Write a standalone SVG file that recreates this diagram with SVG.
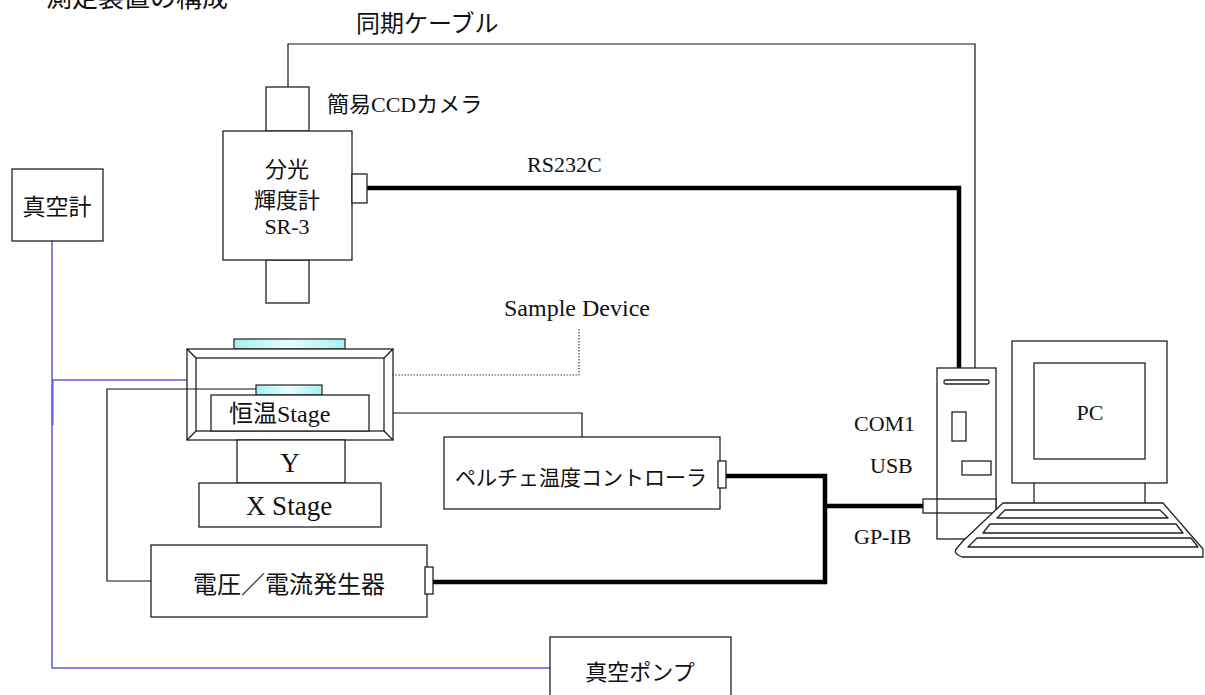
<svg xmlns="http://www.w3.org/2000/svg" width="1205" height="695" viewBox="0 0 1205 695">
<style>
  .bx { fill: #fff; stroke: #222; stroke-width: 1.3; }
  .ln { fill: none; stroke: #111; stroke-width: 1.2; }
  .thick { fill: none; stroke: #000; stroke-width: 4.5; stroke-linejoin: miter; }
  .blue { fill: none; stroke: #5a5ae0; stroke-width: 1.5; }
  .dot { fill: none; stroke: #444; stroke-width: 1.2; stroke-dasharray: 1.5 1.5; }
  text { font-family: "Liberation Serif", "Noto Sans CJK JP", serif; fill: #111; }
  .j { font-family: "Noto Sans CJK JP", sans-serif; }
  .c { text-anchor: middle; }
  .win { fill: url(#glass); stroke: #222; stroke-width: 1.2; }
</style>
<defs>
  <linearGradient id="glass" x1="0" y1="0" x2="1" y2="0">
    <stop offset="0" stop-color="#a6eeee"/>
    <stop offset="0.5" stop-color="#e6ffff"/>
    <stop offset="1" stop-color="#a6eeee"/>
  </linearGradient>
</defs>
<rect width="1205" height="695" fill="#fff"/>

<text class="j" x="46" y="7" font-size="26">測定装置の構成</text>
<text class="j" x="356" y="32" font-size="24">同期ケーブル</text>
<text x="327" y="112" font-size="22">簡易CCDカメラ</text>
<text x="527" y="172" font-size="22">RS232C</text>
<text x="504" y="316" font-size="24">Sample Device</text>
<text x="854" y="431" font-size="22">COM1</text>
<text x="870" y="473" font-size="22">USB</text>
<text x="854" y="544" font-size="22">GP-IB</text>

<g id="connectors">
  <polyline class="blue" points="52,241 52,668 550,668"/>
  <line class="blue" x1="52" y1="380" x2="187" y2="380"/>
  <line class="blue" x1="52.8" y1="380" x2="52.8" y2="425"/>
  <polyline class="ln" points="288,87 288,44 975,44 975,461"/>
  <polyline class="thick" points="367,188 959,188 959,412"/>
  <polyline class="thick" points="726,476 825,476 825,582 433,582"/>
  <line class="thick" x1="823" y1="506" x2="923" y2="506"/>
  <polyline class="ln" points="369,413 582,413 582,437"/>
  <polyline class="ln" points="256,389 107,389 107,581 151,581"/>
  <polyline class="dot" points="579,329 579,375 288,375 288,385"/>
</g>

<g id="vacuum-gauge">
  <rect class="bx" x="12" y="169" width="91" height="72"/>
  <text class="j c" x="57" y="215" font-size="23">真空計</text>
</g>

<g id="spectroradiometer">
  <rect class="bx" x="266" y="87" width="43" height="44"/>
  <rect class="bx" x="266" y="260" width="43" height="43"/>
  <rect class="bx" x="223" y="131" width="129" height="129"/>
  <rect class="bx" x="352" y="174" width="15" height="29"/>
  <text class="j c" x="287" y="177" font-size="22">分光</text>
  <text class="j c" x="287" y="208" font-size="22">輝度計</text>
  <text class="c" x="287" y="234" font-size="22">SR-3</text>
</g>

<g id="chamber">
  <rect class="win" x="234" y="339" width="111" height="10"/>
  <rect class="bx" x="187" y="349" width="206" height="91"/>
  <rect class="bx" x="196" y="358" width="188" height="73"/>
  <path class="ln" d="M187,349 L196,358 M393,349 L384,358 M187,440 L196,431 M393,440 L384,431"/>
  <line class="ln" x1="187" y1="389" x2="256" y2="389"/>
</g>

<g id="sample">
  <rect class="win" x="256" y="385" width="66" height="10"/>
</g>

<g id="thermo-stage">
  <rect class="bx" x="211" y="395" width="158" height="36"/>
  <text x="229" y="422" font-size="24">恒温Stage</text>
</g>

<g id="y-stage">
  <rect class="bx" x="237" y="440" width="108" height="43"/>
  <text class="c" x="290" y="472" font-size="27">Y</text>
</g>

<g id="x-stage">
  <rect class="bx" x="199" y="483" width="182" height="44"/>
  <text class="c" x="289" y="515" font-size="27">X Stage</text>
</g>

<g id="peltier-controller">
  <rect class="bx" x="444" y="437" width="276" height="72"/>
  <rect class="bx" x="718" y="461" width="8" height="27"/>
  <text class="j c" x="581" y="485" font-size="21">ペルチェ温度コントローラ</text>
</g>

<g id="voltage-generator">
  <rect class="bx" x="151" y="545" width="276" height="72"/>
  <rect class="bx" x="425" y="567" width="8" height="27"/>
  <text class="j c" x="289" y="593" font-size="24">電圧／電流発生器</text>
</g>

<g id="vacuum-pump">
  <rect class="bx" x="550" y="637" width="181" height="70"/>
  <text class="j c" x="640" y="680" font-size="22">真空ポンプ</text>
</g>

<g id="pc">
  <rect class="bx" x="937" y="368" width="59" height="171"/>
  <rect class="bx" x="944" y="380" width="45" height="4" rx="1.5"/>
  <rect class="bx" x="952" y="412" width="14" height="29"/>
  <rect class="bx" x="962" y="461" width="29" height="14"/>
  <rect class="bx" x="923" y="499" width="73" height="14"/>
  <line class="ln" x1="937" y1="499" x2="937" y2="513"/>
  <rect class="bx" x="1012" y="341" width="155" height="142"/>
  <rect class="bx" x="1034" y="363" width="111" height="96"/>
  <line class="ln" x1="1034" y1="483" x2="1034" y2="503"/>
  <line class="ln" x1="1145" y1="483" x2="1145" y2="503"/>
  <path class="bx" stroke-linejoin="round" d="M1003,503 L1163,503 L1203,549 L1203,557 L962,557 Q952,553 957,548 L963,541 Z"/>
  <polygon class="bx" stroke-linejoin="round" points="1005,510 1160,510 1168,518 997,518"/>
  <polygon class="bx" stroke-linejoin="round" points="990,524 1176,524 1183,533 983,533"/>
  <polygon class="bx" stroke-linejoin="round" points="977,538 1191,538 1198,547 968,547"/>
  <text class="c" x="1090" y="420" font-size="22">PC</text>
</g>
</svg>
